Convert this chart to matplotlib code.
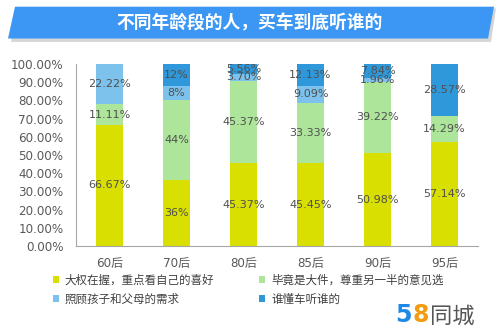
import matplotlib.pyplot as plt
from matplotlib.patches import Polygon, Patch

plt.rcParams['font.family'] = ['DejaVu Sans', 'Noto Sans CJK SC']

groups = ['60后', '70后', '80后', '85后', '90后', '95后']
series_names = ['大权在握，重点看自己的喜好', '毕竟是大件，尊重另一半的意见选',
                '照顾孩子和父母的需求', '谁懂车听谁的']
own_choice = [66.67, 36, 45.37, 45.45, 50.98, 57.14]
partner = [11.11, 44, 45.37, 33.33, 39.22, 14.29]
family = [22.22, 8, 3.70, 9.09, 1.96, 0]
expert = [0, 12, 5.56, 12.13, 7.84, 28.57]
label_text = [
    ['66.67%', '36%', '45.37%', '45.45%', '50.98%', '57.14%'],
    ['11.11%', '44%', '45.37%', '33.33%', '39.22%', '14.29%'],
    ['22.22%', '8%', '3.70%', '9.09%', '1.96%', ''],
    ['', '12%', '5.56%', '12.13%', '7.84%', '28.57%'],
]
colors = ['#d9df00', '#ade59a', '#7cc2ec', '#2e98da']

fig = plt.figure(figsize=(5, 3.35), dpi=100)

# title banner
shadow = Polygon([[0.022, 0.875], [0.982, 0.875], [0.992, 0.975], [0.034, 0.975]],
                 closed=True, transform=fig.transFigure, facecolor='#d5d5d5', edgecolor='none')
banner = Polygon([[0.016, 0.885], [0.976, 0.885], [0.988, 0.98], [0.03, 0.98]],
                 closed=True, transform=fig.transFigure, facecolor='#3b96f4', edgecolor='none')
fig.patches.extend([shadow, banner])
fig.text(0.5, 0.931, '不同年龄段的人，买车到底听谁的', ha='center', va='center',
         color='white', fontsize=12.8, fontweight='bold', family=['Noto Sans CJK SC'])

ax = fig.add_axes([0.152, 0.266, 0.804, 0.543])
x = range(len(groups))
bottom = [0] * len(groups)
for i, vals in enumerate([own_choice, partner, family, expert]):
    ax.bar(x, vals, width=0.39, bottom=bottom, color=colors[i], label=series_names[i])
    for j, v in enumerate(vals):
        if label_text[i][j]:
            ax.text(j, bottom[j] + v / 2, label_text[i][j], ha='center', va='center',
                    fontsize=8, color='#505050')
    bottom = [b + v for b, v in zip(bottom, vals)]

ax.set_xlim(-0.5, 5.5)
ax.set_ylim(0, 100)
ax.set_yticks(range(0, 101, 10))
ax.set_yticklabels(['%.2f%%' % t for t in range(0, 101, 10)])
ax.set_xticks(list(x))
ax.set_xticklabels(groups)
ax.tick_params(axis='y', length=0, labelsize=8.6, colors='#595959', pad=9)
ax.tick_params(axis='x', length=0, labelsize=8.6, colors='#595959', pad=8)
for s in ['top', 'right']:
    ax.spines[s].set_visible(False)
for s in ['left', 'bottom']:
    ax.spines[s].set_color('#a6a6a6')

# legend fills by column, so reorder to read row by row like the original
order = [0, 2, 1, 3]
handles = [Patch(facecolor=colors[k], edgecolor='none') for k in order]
fig.legend(handles, [series_names[k] for k in order], loc='upper left',
           bbox_to_anchor=(0.085, 0.215), ncol=2, frameon=False,
           handlelength=0.5, handleheight=0.5, handletextpad=0.55,
           columnspacing=3.9, labelspacing=0.55, labelcolor='#404040',
           prop={'family': ['Noto Sans CJK SC'], 'size': 8.3})

# 58同城 logo
fig.text(0.79, 0.04, '5', color='#1e88e5', fontsize=17, fontweight='bold')
fig.text(0.825, 0.04, '8', color='#f39c12', fontsize=17, fontweight='bold')
fig.text(0.86, 0.038, '同城', color='#555555', fontsize=16, family=['Noto Sans CJK SC'])

fig.savefig('out.png', dpi=100)
